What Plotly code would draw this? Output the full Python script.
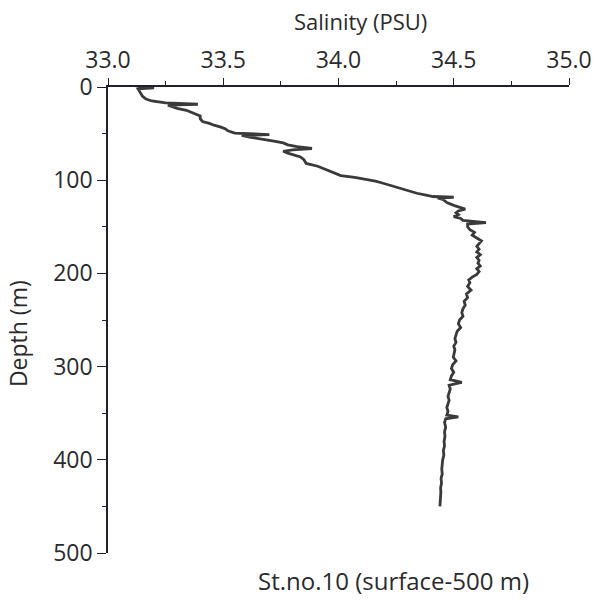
import plotly.graph_objects as go

depth_m = [0, 1, 2, 4, 7, 10, 13, 15, 17, 18.5, 19.5, 21, 23, 25, 27, 29, 31, 34, 37, 39,
           41, 43, 45, 47, 49.5, 51, 52, 54, 56, 58, 60, 62, 64, 66, 67.5, 69, 71, 73, 75, 78,
           82, 85, 89, 92, 95, 97, 99, 101, 103, 106, 109, 111, 114, 116, 117.5, 118.3, 119, 121, 124, 127,
           129, 131, 133, 135, 137, 139, 141, 143, 145.5, 147, 150, 153, 156, 159, 162, 165, 168, 171, 174, 177,
           180, 183, 186, 189, 192, 195, 198, 201, 204, 207, 210, 214, 218, 222, 226, 230, 234, 238, 242, 246,
           250, 254, 258, 262, 266, 270, 274, 278, 282, 286, 290, 294, 298, 302, 306, 310, 314, 317, 320, 324,
           328, 332, 336, 340, 344, 348, 352, 354, 356, 360, 365, 370, 375, 380, 385, 390, 395, 400, 405, 410,
           415, 420, 425, 430, 435, 440, 445, 450]

salinity_psu = [33.13, 33.20, 33.13, 33.135, 33.14, 33.15, 33.165, 33.19, 33.25, 33.39, 33.26, 33.28, 33.30, 33.34, 33.36, 33.38, 33.40, 33.40, 33.41, 33.44,
                33.46, 33.49, 33.51, 33.52, 33.55, 33.70, 33.58, 33.62, 33.68, 33.72, 33.76, 33.78, 33.82, 33.885, 33.80, 33.76, 33.78, 33.81, 33.835, 33.85,
                33.86, 33.91, 33.95, 33.98, 34.01, 34.07, 34.12, 34.16, 34.19, 34.23, 34.27, 34.30, 34.34, 34.38, 34.41, 34.50, 34.43, 34.455, 34.47, 34.50,
                34.53, 34.55, 34.52, 34.51, 34.52, 34.50, 34.53, 34.54, 34.64, 34.56, 34.56, 34.57, 34.59, 34.58, 34.60, 34.62, 34.61, 34.60, 34.61, 34.60,
                34.615, 34.60, 34.61, 34.605, 34.615, 34.60, 34.61, 34.60, 34.58, 34.565, 34.57, 34.56, 34.575, 34.555, 34.56, 34.545, 34.55, 34.54, 34.535, 34.54,
                34.525, 34.52, 34.53, 34.515, 34.51, 34.505, 34.51, 34.50, 34.505, 34.50, 34.498, 34.51, 34.495, 34.49, 34.50, 34.49, 34.485, 34.535, 34.48, 34.485,
                34.48, 34.475, 34.48, 34.475, 34.47, 34.475, 34.47, 34.52, 34.465, 34.46, 34.465, 34.46, 34.462, 34.458, 34.46, 34.455, 34.457, 34.452, 34.45, 34.448,
                34.45, 34.445, 34.447, 34.443, 34.444, 34.442, 34.441, 34.44]

x_ticks = [33.0, 33.5, 34.0, 34.5, 35.0]
x_tick_labels = ["33.0", "33.5", "34.0", "34.5", "35.0"]
y_ticks = [0, 100, 200, 300, 400, 500]
y_tick_labels = ["0", "100", "200", "300", "400", "500"]

FONT = "Open Sans"
FS = 23
TXT = "#2b2b2b"
AX = "#1f1f2e"

fig = go.Figure()
fig.add_trace(go.Scatter(x=salinity_psu, y=depth_m, mode="lines",
                         line=dict(color="#3a3a3a", width=2.8), showlegend=False))

fig.update_layout(
    width=595, height=600,
    margin=dict(l=108, r=26, t=87, b=47, autoexpand=False),
    paper_bgcolor="white", plot_bgcolor="white",
    font=dict(family=FONT, size=FS, color=TXT),
    xaxis=dict(side="top", range=[33, 35], tickvals=x_ticks, ticktext=x_tick_labels,
               ticks="outside", ticklen=7, tickwidth=1.3, tickcolor=AX,
               showline=True, linecolor=AX, linewidth=1.5, showgrid=False, zeroline=False,
               automargin=False, ticklabeloverflow="allow", ticklabelstandoff=1,
               minor=dict(ticks="outside", ticklen=4, tickcolor=AX, dtick=0.25, tick0=33, showgrid=False),
               tickfont=dict(size=FS, family=FONT, color=TXT)),
    yaxis=dict(range=[500, 0], tickvals=y_ticks, ticktext=y_tick_labels,
               ticks="outside", ticklen=9, tickwidth=1.3, tickcolor=AX,
               showline=True, linecolor=AX, linewidth=1.5, showgrid=False, zeroline=False,
               automargin=False,
               minor=dict(ticks="outside", ticklen=4, tickcolor=AX, dtick=50, tick0=0, showgrid=False),
               tickfont=dict(size=FS, family=FONT, color=TXT)),
    annotations=[
        dict(text="Salinity (PSU)", xref="paper", yref="paper", x=0.547, y=1.1416,
             showarrow=False, font=dict(size=22, family=FONT, color=TXT), xanchor="center", yanchor="middle"),
        dict(text="Depth (m)", xref="paper", yref="paper", x=-0.195, y=0.470, textangle=-90,
             showarrow=False, font=dict(size=FS, family=FONT, color=TXT), xanchor="center", yanchor="middle"),
        dict(text="St.no.10 (surface-500 m)", xref="paper", yref="paper", x=0.62, y=-0.058,
             showarrow=False, font=dict(size=24, family=FONT, color=TXT), xanchor="center", yanchor="middle"),
    ],
)

fig.write_html("out.html", config={"displayModeBar": False},
               post_script="document.body.style.margin='0';document.body.style.overflow='hidden';")
